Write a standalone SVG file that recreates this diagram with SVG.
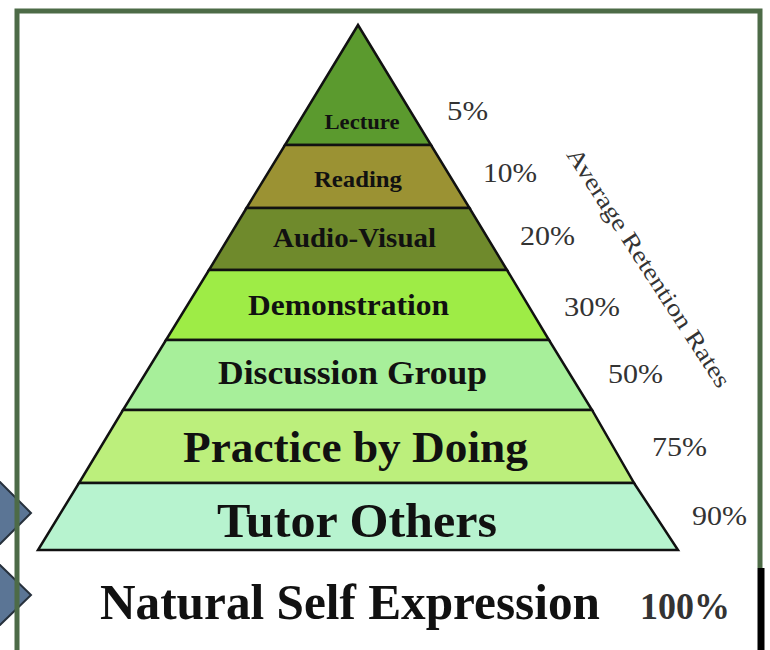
<svg xmlns="http://www.w3.org/2000/svg" width="770" height="650" viewBox="0 0 770 650">
<style>
.lab{font-family:"Liberation Serif","Times New Roman",serif;font-weight:bold;fill:#111;text-anchor:middle}
.pct{font-family:"Liberation Serif","Times New Roman",serif;fill:#333;}
.layer{stroke:#111;stroke-width:2.5;stroke-linejoin:miter}
.arr{fill:#5b7595;stroke:#27313d;stroke-width:2}
</style>
<rect width="770" height="650" fill="#fff"/>
<g id="side-arrows">
<polygon class="arr" points="-40,482 0,482 31,513 0,544 -40,544"/>
<polygon class="arr" points="-40,565 0,565 31,595 0,625 -40,625"/>
</g>
<g id="frame">
<path d="M17,660 V11 H760 V568" fill="none" stroke="#4d6b47" stroke-width="5"/>
<line x1="761" y1="568" x2="761" y2="655" stroke="#000" stroke-width="7"/>
</g>
<g id="pyramid">
<g id="lecture"><polygon class="layer" fill="#5b9a2e" points="358,25 431,145 285,145"/><text class="lab" x="362" y="129" font-size="20" textLength="75" lengthAdjust="spacingAndGlyphs">Lecture</text></g>
<g id="reading"><polygon class="layer" fill="#9b9233" points="285,145 431,145 469.5,208 246.5,208"/><text class="lab" x="358" y="187" font-size="24" textLength="88" lengthAdjust="spacingAndGlyphs">Reading</text></g>
<g id="audio-visual"><polygon class="layer" fill="#6f8a2c" points="246.5,208 469.5,208 507,270 209,270"/><text class="lab" x="354.5" y="247" font-size="27" textLength="163" lengthAdjust="spacingAndGlyphs">Audio-Visual</text></g>
<g id="demonstration"><polygon class="layer" fill="#9eec46" points="209,270 507,270 549,340 166,340"/><text class="lab" x="348.5" y="315" font-size="30" textLength="201" lengthAdjust="spacingAndGlyphs">Demonstration</text></g>
<g id="discussion-group"><polygon class="layer" fill="#a7ef9a" points="166,340 549,340 592,410 123,410"/><text class="lab" x="352.5" y="384" font-size="34" textLength="269" lengthAdjust="spacingAndGlyphs">Discussion Group</text></g>
<g id="practice"><polygon class="layer" fill="#bcef7c" points="123,410 592,410 634,483 79,483"/><text class="lab" x="355.5" y="462" font-size="44" textLength="345" lengthAdjust="spacingAndGlyphs">Practice by Doing</text></g>
<g id="tutor"><polygon class="layer" fill="#b7f3cf" points="79,483 634,483 678,550 38,550"/><text class="lab" x="357" y="537" font-size="49" textLength="280" lengthAdjust="spacingAndGlyphs">Tutor Others</text></g>
</g>
<g id="natural"><text class="lab" x="350" y="619" font-size="50" textLength="500" lengthAdjust="spacingAndGlyphs">Natural Self Expression</text></g>
<g id="percentages">
<text class="pct" x="447" y="120" font-size="28" textLength="41" lengthAdjust="spacingAndGlyphs">5%</text>
<text class="pct" x="483" y="182" font-size="28" textLength="54" lengthAdjust="spacingAndGlyphs">10%</text>
<text class="pct" x="520" y="245" font-size="28" textLength="55" lengthAdjust="spacingAndGlyphs">20%</text>
<text class="pct" x="564" y="316" font-size="28" textLength="56" lengthAdjust="spacingAndGlyphs">30%</text>
<text class="pct" x="608" y="383" font-size="28" textLength="55" lengthAdjust="spacingAndGlyphs">50%</text>
<text class="pct" x="652" y="456" font-size="28" textLength="55" lengthAdjust="spacingAndGlyphs">75%</text>
<text class="pct" x="692" y="525" font-size="28" textLength="55" lengthAdjust="spacingAndGlyphs">90%</text>
<text class="pct" x="640" y="619" font-size="38" font-weight="bold" fill="#111" textLength="90" lengthAdjust="spacingAndGlyphs">100%</text>
</g>
<g id="axis-label"><text class="pct" x="0" y="0" font-size="24" text-anchor="middle" textLength="280" lengthAdjust="spacingAndGlyphs" transform="translate(642,272) rotate(57)">Average Retention Rates</text></g>
</svg>
